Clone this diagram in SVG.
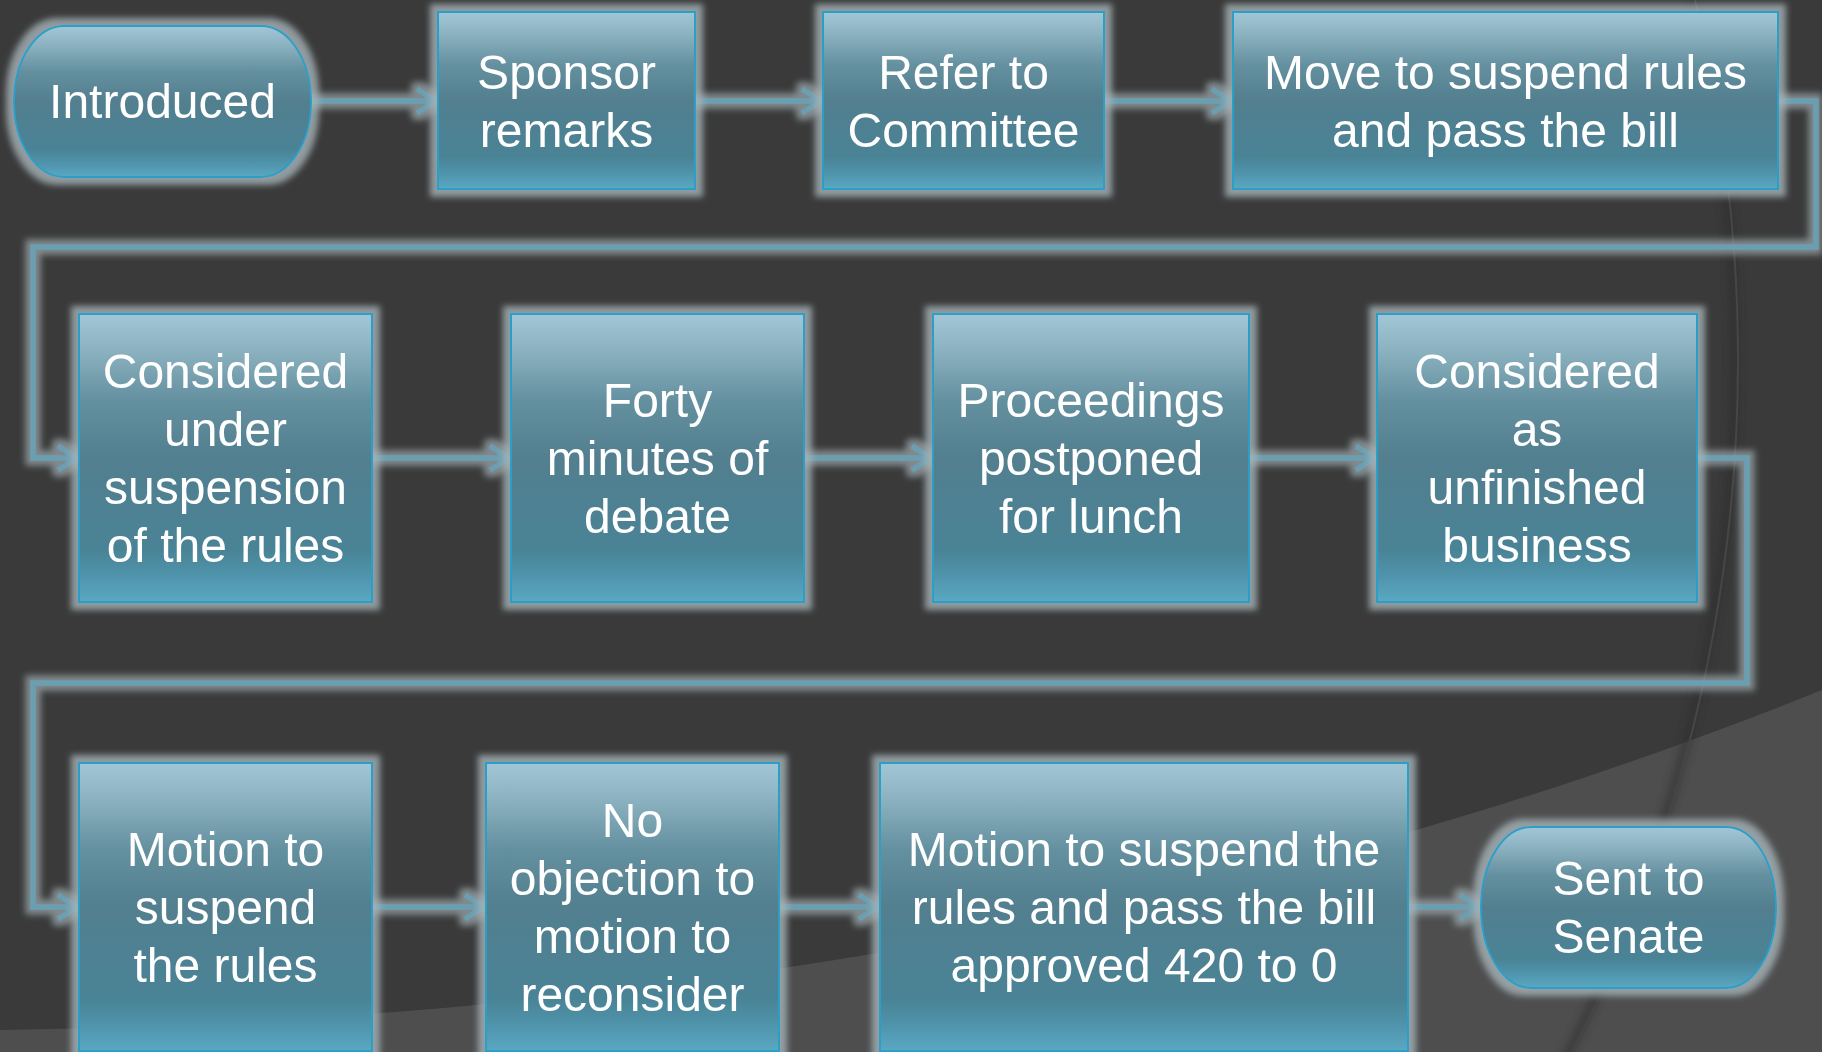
<svg xmlns="http://www.w3.org/2000/svg" width="1822" height="1052" viewBox="0 0 1822 1052">
<defs>
<linearGradient id="boxg" x1="0" y1="0" x2="0" y2="1">
<stop offset="0" stop-color="#a2c6d5"/>
<stop offset="0.12" stop-color="#8db3c2"/>
<stop offset="0.3" stop-color="#64909f"/>
<stop offset="0.5" stop-color="#527f8f"/>
<stop offset="0.82" stop-color="#4a8396"/>
<stop offset="0.92" stop-color="#5096ae"/>
<stop offset="1" stop-color="#5ba8c2"/>
</linearGradient>
<filter id="glow" x="-10%" y="-10%" width="120%" height="120%">
<feMorphology in="SourceAlpha" operator="dilate" radius="7" result="d"/>
<feGaussianBlur in="d" stdDeviation="3" result="b"/>
<feFlood flood-color="#a6b4b9" flood-opacity="0.8"/>
<feComposite in2="b" operator="in" result="g"/>
<feMerge><feMergeNode in="g"/><feMergeNode in="SourceGraphic"/></feMerge>
</filter>
<filter id="lglow" x="0" y="0" width="1822" height="1052" filterUnits="userSpaceOnUse">
<feMorphology in="SourceAlpha" operator="dilate" radius="5" result="d"/>
<feGaussianBlur in="d" stdDeviation="3" result="b"/>
<feFlood flood-color="#98a4a8" flood-opacity="0.75"/>
<feComposite in2="b" operator="in" result="g"/>
<feMerge><feMergeNode in="g"/><feMergeNode in="SourceGraphic"/></feMerge>
</filter>
<filter id="soft"><feGaussianBlur stdDeviation="4"/></filter>
<marker id="arr" markerUnits="userSpaceOnUse" markerWidth="40" markerHeight="40" viewBox="-30 -20 40 40" refX="0" refY="0" orient="auto" overflow="visible">
<path d="M-21,-12 L-2,0 L-21,12" fill="none" stroke="#6b9fb1" stroke-width="5.5"/>
</marker>
<style>
.box{fill:url(#boxg);stroke:#2a9fc8;stroke-width:2;}
.lbl{font-family:"Liberation Sans",Arial,sans-serif;font-size:48px;fill:#ffffff;text-anchor:middle;}
.con{fill:none;stroke:#6b9fb1;stroke-width:5.5;}
</style>
</defs>

<rect x="0" y="0" width="1822" height="1052" fill="#3a3a3a"/>
<path d="M0,1030 C700,1020 1300,900 1822,690 L1822,1052 L0,1052 Z" fill="#4e4e4e"/>
<circle cx="210" cy="360" r="1525" fill="none" stroke="#2c2c2c" stroke-width="8" opacity="0.6" filter="url(#soft)"/>
<circle cx="210" cy="360" r="1528" fill="none" stroke="#464646" stroke-width="2"/>

<g id="connectors" filter="url(#lglow)">
<path class="con" d="M311,101 L438,101" marker-end="url(#arr)"/>
<path class="con" d="M695,101 L823,101" marker-end="url(#arr)"/>
<path class="con" d="M1104,101 L1233,101" marker-end="url(#arr)"/>
<path class="con" d="M1778,101 L1816,101 L1816,247 L33,247 L33,458 L79,458" marker-end="url(#arr)"/>
<path class="con" d="M372,458 L511,458" marker-end="url(#arr)"/>
<path class="con" d="M804,458 L933,458" marker-end="url(#arr)"/>
<path class="con" d="M1249,458 L1377,458" marker-end="url(#arr)"/>
<path class="con" d="M1697,458 L1747,458 L1747,683 L33,683 L33,907 L79,907" marker-end="url(#arr)"/>
<path class="con" d="M372,907 L486,907" marker-end="url(#arr)"/>
<path class="con" d="M779,907 L880,907" marker-end="url(#arr)"/>
<path class="con" d="M1408,907 L1481,907" marker-end="url(#arr)"/>
</g>

<g id="n1" filter="url(#glow)"><rect class="box" x="14" y="26" width="297" height="151" rx="50" ry="75"/>
<text class="lbl" x="162.5" y="117.5">Introduced</text></g>
<g id="n2" filter="url(#glow)"><rect class="box" x="438" y="12" width="257" height="177"/>
<text class="lbl"><tspan x="566.5" y="88.5">Sponsor</tspan><tspan x="566.5" y="146.5">remarks</tspan></text></g>
<g id="n3" filter="url(#glow)"><rect class="box" x="823" y="12" width="281" height="177"/>
<text class="lbl"><tspan x="963.5" y="88.5">Refer to</tspan><tspan x="963.5" y="146.5">Committee</tspan></text></g>
<g id="n4" filter="url(#glow)"><rect class="box" x="1233" y="12" width="545" height="177"/>
<text class="lbl"><tspan x="1505.5" y="88.5">Move to suspend rules</tspan><tspan x="1505.5" y="146.5">and pass the bill</tspan></text></g>

<g id="n5" filter="url(#glow)"><rect class="box" x="79" y="314" width="293" height="288"/>
<text class="lbl"><tspan x="225.5" y="388">Considered</tspan><tspan x="225.5" y="446">under</tspan><tspan x="225.5" y="504">suspension</tspan><tspan x="225.5" y="562">of the rules</tspan></text></g>
<g id="n6" filter="url(#glow)"><rect class="box" x="511" y="314" width="293" height="288"/>
<text class="lbl"><tspan x="657.5" y="417">Forty</tspan><tspan x="657.5" y="475">minutes of</tspan><tspan x="657.5" y="533">debate</tspan></text></g>
<g id="n7" filter="url(#glow)"><rect class="box" x="933" y="314" width="316" height="288"/>
<text class="lbl"><tspan x="1091" y="417">Proceedings</tspan><tspan x="1091" y="475">postponed</tspan><tspan x="1091" y="533">for lunch</tspan></text></g>
<g id="n8" filter="url(#glow)"><rect class="box" x="1377" y="314" width="320" height="288"/>
<text class="lbl"><tspan x="1537" y="388">Considered</tspan><tspan x="1537" y="446">as</tspan><tspan x="1537" y="504">unfinished</tspan><tspan x="1537" y="562">business</tspan></text></g>

<g id="n9" filter="url(#glow)"><rect class="box" x="79" y="763" width="293" height="288"/>
<text class="lbl"><tspan x="225.5" y="866">Motion to</tspan><tspan x="225.5" y="924">suspend</tspan><tspan x="225.5" y="982">the rules</tspan></text></g>
<g id="n10" filter="url(#glow)"><rect class="box" x="486" y="763" width="293" height="288"/>
<text class="lbl"><tspan x="632.5" y="837">No</tspan><tspan x="632.5" y="895">objection to</tspan><tspan x="632.5" y="953">motion to</tspan><tspan x="632.5" y="1011">reconsider</tspan></text></g>
<g id="n11" filter="url(#glow)"><rect class="box" x="880" y="763" width="528" height="288"/>
<text class="lbl"><tspan x="1144" y="866">Motion to suspend the</tspan><tspan x="1144" y="924">rules and pass the bill</tspan><tspan x="1144" y="982">approved 420 to 0</tspan></text></g>
<g id="n12" filter="url(#glow)"><rect class="box" x="1481" y="827" width="295" height="161" rx="50" ry="80"/>
<text class="lbl"><tspan x="1628.5" y="895">Sent to</tspan><tspan x="1628.5" y="953">Senate</tspan></text></g>
</svg>
